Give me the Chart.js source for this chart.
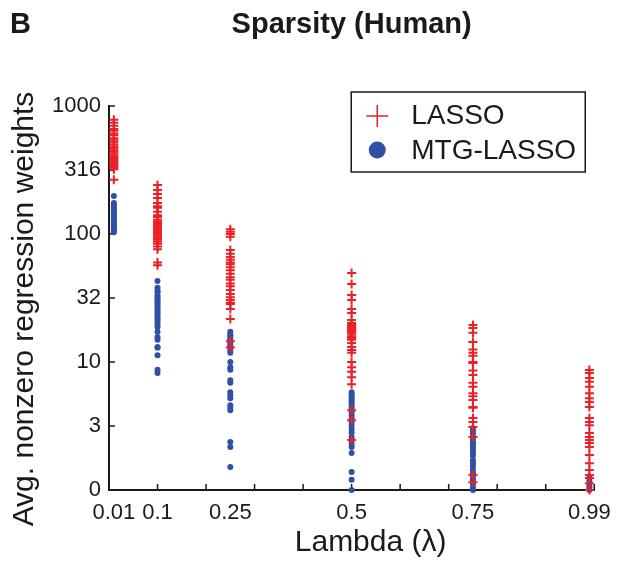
<!DOCTYPE html>
<html>
<head>
<meta charset="utf-8">
<script src="https://cdn.jsdelivr.net/npm/chart.js@4.4.1/dist/chart.umd.min.js"></script>
<style>
  html, body { margin: 0; padding: 0; background: #fff; }
</style>
</head>
<body>
<canvas id="sparsityChart" width="621" height="563"></canvas>
<script>
// lambda values on the x axis, and the labels printed under them
var lambdas = [0.01, 0.1, 0.25, 0.5, 0.75, 0.99];
var lambdaLabels = ['0.01', '0.1', '0.25', '0.5', '0.75', '0.99'];
var xMinorTicks = [0.1, 0.2, 0.3, 0.4, 0.5, 0.6, 0.7, 0.8, 0.9, 1.0];

// y axis is log10, the bottom tick (value 1) is printed as "0"
var yTickValues = [1, 3.1623, 10, 31.623, 100, 316.23, 1000];
var yTickLabels = ['0', '3', '10', '32', '100', '316', '1000'];

var seriesNames = ['LASSO', 'MTG-LASSO'];

// avg. nonzero regression weights, one list per lambda
var lassoAt001 = [780, 740, 700, 660, 640, 610, 590, 560, 540, 520, 500, 480, 465, 450, 440, 425, 410, 400, 390, 380, 370, 360, 350, 340, 330, 320, 265];
var lassoAt01 = [241, 221, 205, 191, 175, 165, 160, 149, 140, 136, 129, 125, 122, 118, 115, 113, 110, 107, 104, 102, 99, 96, 93, 90, 87, 84, 80, 76, 60, 57];
var lassoAt025 = [109, 104, 100, 95, 75, 70, 66, 63, 60, 58, 55, 52, 49, 46, 44, 41, 39, 36.5, 34, 32, 30.5, 29, 28.4, 26, 21.7, 14.5, 13];
var lassoAt05 = [49.6, 40.7, 33.4, 30.5, 26, 24.1, 21.3, 20.2, 19.5, 18.8, 18.3, 17.8, 17.3, 16.9, 16.3, 15.7, 15.3, 14.9, 14.1, 13.1, 12.4, 11.8, 10, 9.1, 8.4, 7.6, 6.7, 4.2, 3.5, 2.46];
var lassoAt075 = [19.5, 18.4, 16.9, 14.3, 12.5, 11.8, 11.2, 10, 9.8, 8.6, 7.9, 6.9, 6.4, 5.7, 5.4, 5.05, 4.45, 4.4, 3.65, 3.4, 3.1, 2.6, 1.31, 1.15];
var lassoAt099 = [8.66, 8.2, 7.5, 7.0, 6.4, 5.7, 5.2, 4.87, 4.45, 3.65, 3.4, 3.2, 2.79, 2.6, 2.46, 2.33, 2.17, 1.88, 1.62, 1.43, 1.31, 1.24, 1.13, 1];

var mtgAt001 = [198, 175, 170, 165, 160, 155, 150, 146, 142, 138, 134, 130, 126, 122, 118, 115, 112, 109, 106, 103];
var mtgAt01 = [43, 38, 36, 35, 33, 32, 31, 30, 29, 28, 27, 26, 25, 24, 23, 22, 21.3, 20.5, 19.5, 18.8, 17.2, 15.7, 14.9, 13.1, 12.9, 11.3, 8.7, 8.2];
var mtgAt025 = [17.2, 16.5, 16, 15.4, 14.9, 14.3, 13.8, 13.3, 12.9, 12.3, 11.8, 10, 9.1, 8.7, 7.2, 6.9, 5.8, 5.5, 5.2, 4.6, 4.4, 4.2, 2.37, 2.17, 1.51];
var mtgAt05 = [5.8, 5.6, 5.4, 5.2, 5.0, 4.8, 4.6, 4.4, 4.2, 4.0, 3.8, 3.6, 3.4, 3.2, 3.0, 2.8, 2.6, 2.45, 2.3, 2.17, 1.95, 1.38, 1.2, 1];
var mtgAt075 = [3.05, 2.9, 2.75, 2.6, 2.46, 2.35, 2.25, 2.15, 2.05, 1.95, 1.85, 1.71, 1.62, 1.53, 1.43, 1.35, 1.27, 1.2, 1.12, 1.05, 1];
var mtgAt099 = [1.24, 1.18, 1.1, 1.05, 1];

var lassoWeights = [lassoAt001, lassoAt01, lassoAt025, lassoAt05, lassoAt075, lassoAt099];
var mtgWeights = [mtgAt001, mtgAt01, mtgAt025, mtgAt05, mtgAt075, mtgAt099];

var RED = '#ec2027';
var BLUE = '#3050a8';
var INK = '#1a1a1a';
var FONT = "'Liberation Sans', Arial, sans-serif";

function toPoints(groups) {
    var pts = [];
    groups.forEach(function(vals, i) {
        vals.forEach(function(v) {
            pts.push({ x: lambdas[i], y: v });
        });
    });
    return pts;
}

Chart.defaults.font.family = FONT;
Chart.defaults.color = INK;

// inward tick marks, panel letter, titles and the boxed legend
var decorations = {
    id: 'decorations',
    beforeDatasetsDraw: function(chart) {
        var ctx = chart.ctx,
            area = chart.chartArea,
            xs = chart.scales.x,
            ys = chart.scales.y;

        ctx.save();
        ctx.strokeStyle = INK;
        ctx.lineWidth = 1.5;
        ctx.beginPath();
        xMinorTicks.forEach(function(v) {
            var px = xs.getPixelForValue(v);
            ctx.moveTo(px, area.bottom);
            ctx.lineTo(px, area.bottom - 6);
        });
        yTickValues.forEach(function(v) {
            var py = ys.getPixelForValue(v);
            ctx.moveTo(area.left, py);
            ctx.lineTo(area.left + 6, py);
        });
        ctx.stroke();
        ctx.restore();
    },
    afterDraw: function(chart) {
        var ctx = chart.ctx,
            area = chart.chartArea,
            midX = (area.left + area.right) / 2,
            midY = (area.top + area.bottom) / 2;

        ctx.save();
        ctx.fillStyle = INK;
        ctx.textBaseline = 'middle';
        ctx.font = 'bold 29px ' + FONT;
        ctx.textAlign = 'left';
        ctx.fillText('B', 10, 25);
        ctx.textAlign = 'center';
        ctx.fillText('Sparsity (Human)', midX, 25);

        // axis titles
        ctx.font = '30px ' + FONT;
        ctx.fillText('Lambda (λ)', midX + 19, 543);
        ctx.save();
        ctx.translate(25, midY + 11);
        ctx.rotate(-Math.PI / 2);
        ctx.fillText('Avg. nonzero regression weights', 0, 0);
        ctx.restore();

        // legend box, top right inside the axes
        var w = 234, h = 80;
        var bx = area.right - 9 - w;
        var by = area.top - 14;
        ctx.fillStyle = '#fff';
        ctx.fillRect(bx, by, w, h);
        ctx.strokeStyle = INK;
        ctx.lineWidth = 1.5;
        ctx.strokeRect(bx, by, w, h);

        var names = chart.data.datasets.map(function(d) { return d.label; });
        var mx = bx + 26;
        ctx.strokeStyle = RED;
        ctx.lineWidth = 1.5;
        ctx.beginPath();
        ctx.moveTo(mx - 11, by + 24);
        ctx.lineTo(mx + 11, by + 24);
        ctx.moveTo(mx, by + 13);
        ctx.lineTo(mx, by + 35);
        ctx.stroke();

        ctx.fillStyle = BLUE;
        ctx.beginPath();
        ctx.arc(mx, by + 58, 8.5, 0, Math.PI * 2);
        ctx.fill();

        ctx.fillStyle = INK;
        ctx.font = '28px ' + FONT;
        ctx.textAlign = 'left';
        ctx.fillText(names[0], bx + 60, by + 24);
        ctx.fillText(names[1], bx + 60, by + 59);
        ctx.restore();
    }
};

var ctx = document.getElementById('sparsityChart').getContext('2d');
var sparsityChart = new Chart(ctx, {
    type: 'scatter',
    data: {
        datasets: [{
            label: seriesNames[0],
            data: toPoints(lassoWeights),
            pointStyle: 'cross',
            pointRadius: 4.5,
            pointBorderWidth: 2,
            borderColor: RED,
            backgroundColor: RED,
            clip: false
        }, {
            label: seriesNames[1],
            data: toPoints(mtgWeights),
            pointStyle: 'circle',
            pointRadius: 3,
            pointBorderWidth: 0,
            borderColor: BLUE,
            backgroundColor: BLUE,
            clip: false
        }]
    },
    options: {
        responsive: false,
        animation: false,
        events: [],
        layout: {
            padding: { top: 106, left: 0, right: 20, bottom: 0 }
        },
        plugins: {
            legend: { display: false },
            title: { display: false },
            tooltip: { enabled: false }
        },
        scales: {
            x: {
                type: 'linear',
                min: 0,
                max: 1,
                afterBuildTicks: function(scale) {
                    scale.ticks = lambdas.map(function(v) { return { value: v }; });
                },
                afterFit: function(scale) {
                    scale.height = 73;
                },
                ticks: {
                    autoSkip: false,
                    maxRotation: 0,
                    padding: 10,
                    font: { size: 22 },
                    color: INK,
                    callback: function(value, index) {
                        return lambdaLabels[index];
                    }
                },
                grid: { display: false, drawTicks: false },
                border: { display: true, color: INK, width: 2 }
            },
            y: {
                type: 'logarithmic',
                min: 1,
                max: 1000,
                afterBuildTicks: function(scale) {
                    scale.ticks = yTickValues.map(function(v) { return { value: v }; });
                },
                afterFit: function(scale) {
                    scale.width = 109;
                },
                ticks: {
                    autoSkip: false,
                    padding: 8,
                    font: { size: 22 },
                    color: INK,
                    callback: function(value, index) {
                        return yTickLabels[index];
                    }
                },
                grid: { display: false, drawTicks: false },
                border: { display: true, color: INK, width: 2 }
            }
        }
    },
    plugins: [decorations]
});
</script>
</body>
</html>
